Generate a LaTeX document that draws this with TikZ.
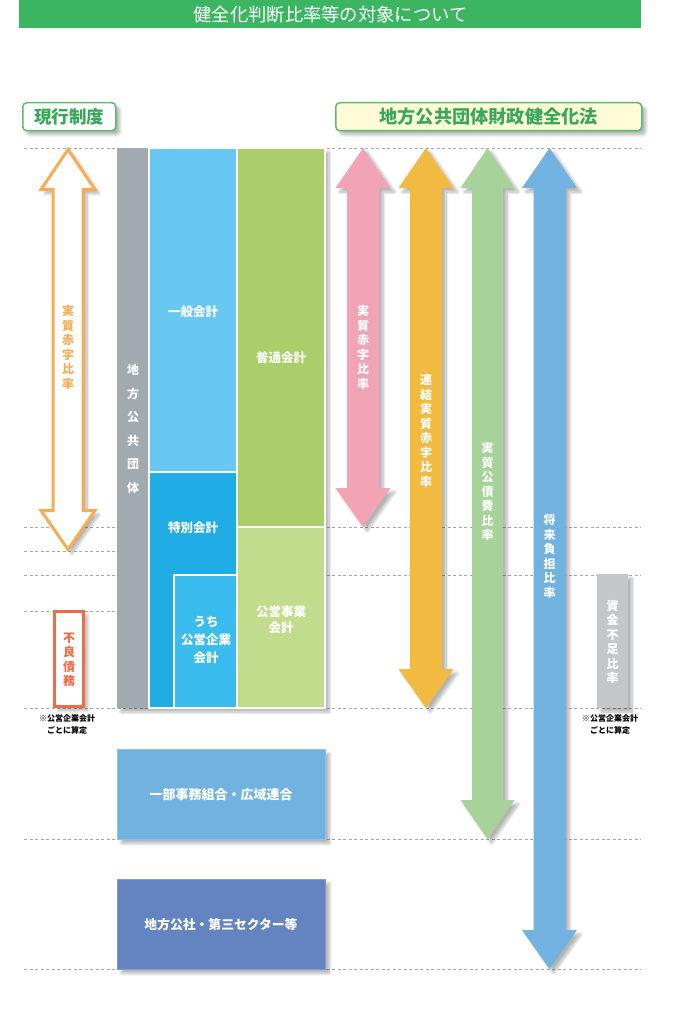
\documentclass[tikz,border=0pt]{standalone}
\usepackage{fontspec}
\setmainfont{Noto Sans CJK JP}
\usetikzlibrary{shadows.blur}
\definecolor{titlegreen}{HTML}{3CB563}
\definecolor{labelgreen}{HTML}{3AA85A}
\definecolor{labelborder}{HTML}{5DBB6E}
\definecolor{labelyellow}{HTML}{FFFBD9}
\definecolor{guidegray}{HTML}{A8A8A8}
\definecolor{outorange}{HTML}{F8AD52}
\definecolor{debtred}{HTML}{EE6D48}
\definecolor{colgray}{HTML}{A2A9AF}
\definecolor{genblue}{HTML}{68C8F2}
\definecolor{spblue}{HTML}{20ADE5}
\definecolor{entblue}{HTML}{3ABDEE}
\definecolor{ordgreen}{HTML}{A9CE6A}
\definecolor{pubgreen}{HTML}{C1DC8C}
\definecolor{pinkarr}{HTML}{F2A3B5}
\definecolor{orangearr}{HTML}{F2BA40}
\definecolor{greenarr}{HTML}{A7D39B}
\definecolor{bluearr}{HTML}{71B2E1}
\definecolor{fundgray}{HTML}{C3C7CA}
\definecolor{unionblue}{HTML}{71B2E1}
\definecolor{corpblue}{HTML}{6483C1}
\newcommand{\dblarrowpath}[5]{(#1,#2) -- ({#1+#4},{#2+40}) -- ({#1+#5},{#2+40}) -- ({#1+#5},{#3-39}) -- ({#1+#4},{#3-39}) -- (#1,#3) -- ({#1-#4},{#3-39}) -- ({#1-#5},{#3-39}) -- ({#1-#5},{#2+40}) -- ({#1-#4},{#2+40}) -- cycle}
\tikzset{
  guide/.style={draw=guidegray, line width=0.8pt, dash pattern=on 3pt off 2.5pt},
  softshadow/.style={blur shadow={shadow xshift=4pt, shadow yshift=-4pt, shadow opacity=30, shadow blur steps=8, shadow blur radius=3pt}},
  coltext/.style={text=white, font=\fontsize{12.5}{14.5}\selectfont\bfseries, align=center, inner sep=0pt},
  vtext/.style={text=white, font=\fontsize{12}{14.5}\selectfont\bfseries, align=center, inner sep=0pt},
  notetext/.style={font=\fontsize{8}{12}\selectfont\bfseries, align=center, inner sep=0pt},
  legal/.style={rounded corners=4pt, draw=labelborder, line width=1.5pt, text=labelgreen, font=\fontsize{17.5}{20}\selectfont\bfseries, inner sep=0pt, anchor=north west, softshadow},
  colbox/.style={draw=white, line width=1.2pt},
}
\begin{document}
\begin{tikzpicture}[x=1pt,y=-1pt]
\useasboundingbox (0,0) rectangle (680,1027);
% title
\node[fill=titlegreen, minimum width=622pt, minimum height=28pt, anchor=north west, inner sep=0pt] (title) at (19,0) {};
\node[text=white, font=\fontsize{18.3}{20}\selectfont, inner sep=0pt] (titletext) at (330.5,15) {健全化判断比率等の対象について};
% guide lines
\draw[guide] (24,148) -- (641,148);
\draw[guide] (24,527) -- (641,527);
\draw[guide] (24,551) -- (117,551);
\draw[guide] (24,575) -- (641,575);
\draw[guide] (24,611) -- (117,611);
\draw[guide] (24,708) -- (641,708);
\draw[guide] (24,839) -- (641,839);
\draw[guide] (24,969) -- (641,969);
% labels
\node[legal, fill=white, minimum width=93pt, minimum height=28pt] (current) at (22,102) {現行制度};
\node[legal, font=\fontsize{18.2}{20}\selectfont\bfseries, fill=labelyellow, minimum width=306pt, minimum height=28pt] (law) at (335,102) {地方公共団体財政健全化法};
% left outline arrow
\draw[fill=white, draw=outorange, line width=3pt, line join=miter, softshadow] \dblarrowpath{68}{149.5}{549.5}{27}{15};
\node[vtext, text=outorange] (leftlbl) at (68,347.5) {実\\質\\赤\\字\\比\\率};
% bad debt box
\node[draw=debtred, line width=3pt, fill=white, minimum width=29pt, minimum height=95pt, inner sep=0pt, softshadow] (debt) at (69,659) {};
\node[vtext, text=debtred] (debtlbl) at (69,660) {不\\良\\債\\務};
\node[notetext] (noteL) at (67,724) {※公営企業会計\\ごとに算定};
% columns
\fill[colgray, softshadow] (117,148) rectangle (325,708);
\fill[colgray] (117,148) rectangle (149,708);
\filldraw[colbox, fill=genblue] (149,148) rectangle (237,472);
\filldraw[colbox, fill=spblue] (149,472) rectangle (237,708);
\filldraw[colbox, fill=entblue] (174,575) rectangle (237,708);
\filldraw[colbox, fill=ordgreen] (237,148) rectangle (325,527);
\filldraw[colbox, fill=pubgreen] (237,527) rectangle (325,708);
\node[coltext, font=\fontsize{12}{23.5}\selectfont\bfseries] (local) at (133,429) {地\\方\\公\\共\\団\\体};
\node[coltext] (general) at (193,312) {一般会計};
\node[coltext] (special) at (193,528) {特別会計};
\node[coltext, font=\fontsize{12.5}{18}\selectfont\bfseries] (enterprise) at (206,640) {うち\\公営企業\\会計};
\node[coltext] (ordinary) at (281,358) {普通会計};
\node[coltext, font=\fontsize{12.5}{16}\selectfont\bfseries] (public) at (281,620) {公営事業\\会計};
% bottom boxes
\node[fill=unionblue, draw=unionblue!80!white, line width=0.8pt, minimum width=208pt, minimum height=90pt, anchor=north west, softshadow] (union) at (117,749) {};
\node[coltext, font=\fontsize{13}{15}\selectfont\bfseries] (unionlbl) at (221,795) {一部事務組合・広域連合};
\node[fill=corpblue, draw=corpblue!80!white, line width=0.8pt, minimum width=208pt, minimum height=90pt, anchor=north west, softshadow] (corp) at (117,879) {};
\node[coltext, font=\fontsize{12.8}{15}\selectfont\bfseries] (corplbl) at (221,925) {地方公社・第三セクター等};
% right arrows
\fill[pinkarr, softshadow] \dblarrowpath{363}{148}{527}{27.5}{16};
\node[vtext] (pinklbl) at (363,347.5) {実\\質\\赤\\字\\比\\率};
\fill[orangearr, softshadow] \dblarrowpath{426}{148}{708}{27.5}{16};
\node[vtext] (orangelbl) at (426,431) {連\\結\\実\\質\\赤\\字\\比\\率};
\fill[greenarr, softshadow] \dblarrowpath{487.5}{148}{839}{27}{15.5};
\node[vtext] (greenlbl) at (487.5,491.5) {実\\質\\公\\債\\費\\比\\率};
\fill[bluearr, softshadow] \dblarrowpath{549.5}{148}{969}{27.5}{16};
\node[vtext] (bluelbl) at (549.5,556.5) {将\\来\\負\\担\\比\\率};
% fund shortfall
\fill[fundgray, softshadow] (597,574) rectangle (628,708);
\node[vtext] (fundlbl) at (612.5,642) {資\\金\\不\\足\\比\\率};
\node[notetext] (noteR) at (610,724) {※公営企業会計\\ごとに算定};
\end{tikzpicture}
\end{document}
